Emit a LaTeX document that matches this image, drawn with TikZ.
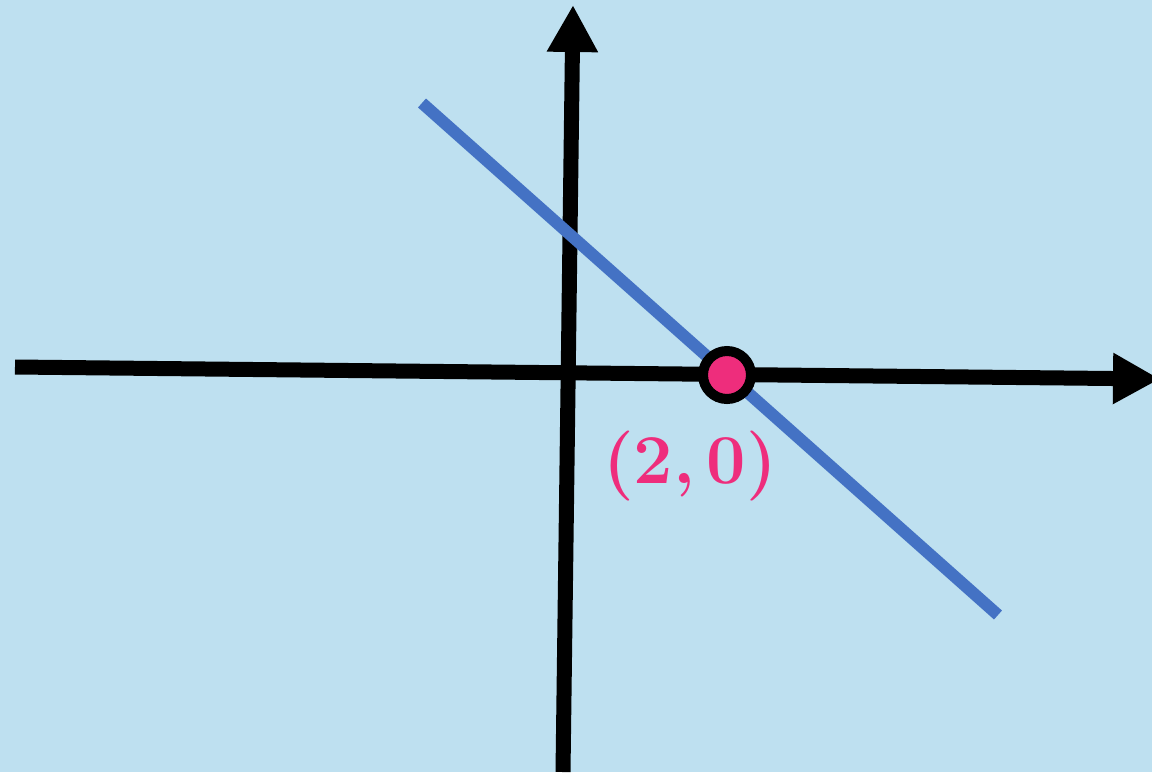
\documentclass[tikz,border=0pt]{standalone}
\usetikzlibrary{arrows.meta}
\definecolor{bgblue}{RGB}{190,224,240}
\definecolor{lineblue}{RGB}{68,114,196}
\definecolor{pinkpt}{RGB}{238,45,124}
\tikzset{
  axis/.style={line width=15pt, -{Triangle[length=47pt,width=48pt]}},
  graphline/.style={line width=12pt, lineblue},
  ptdot/.style={circle, fill=pinkpt, draw=black, line width=10pt, minimum size=48pt, inner sep=0pt},
  ptlabel/.style={text=pinkpt, inner sep=0pt, font=\fontsize{70}{84}\selectfont\bfseries}
}
\begin{document}
\begin{tikzpicture}[x=1pt,y=-1pt]
\fill[bgblue] (0,0) rectangle (1152,772);
\useasboundingbox (0,0) rectangle (1152,772);
\coordinate (xl) at (15,367);
\coordinate (xr) at (1160,379);
\coordinate (yb) at (563,772);
\coordinate (yt) at (573,5);
\coordinate (la) at (422,103);
\coordinate (lb) at (998,615);
\draw[axis] (xl) -- (xr);
\draw[axis] (yb) -- (yt);
\draw[graphline] (la) -- (lb);
\node[ptdot] (P) at (727,375) {};
\node[ptlabel] (L) at (690,466) {(2,\,0)};
\end{tikzpicture}
\end{document}
